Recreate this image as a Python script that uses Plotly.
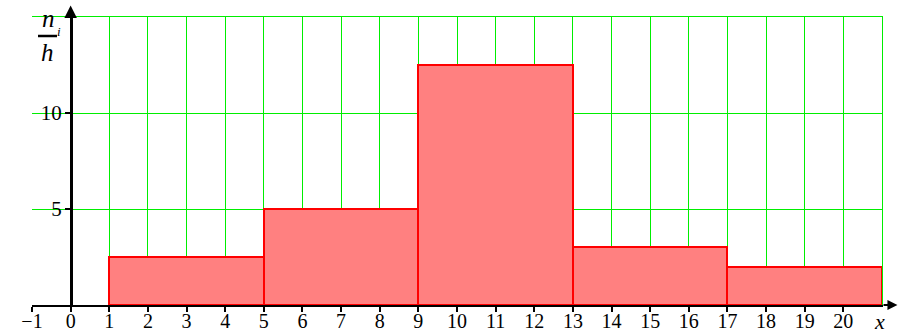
import plotly.graph_objects as go

# Data
bin_edges = [1, 5, 9, 13, 17, 21]
heights = [2.5, 5, 12.5, 3, 2]
x_ticks = list(range(-1, 21))
x_ticklabels = ["\u22121"] + [str(v) for v in range(0, 21)]
y_ticks = [5, 10]
y_ticklabels = ["5", "10"]

centers = [(a + b) / 2 for a, b in zip(bin_edges[:-1], bin_edges[1:])]
widths = [b - a for a, b in zip(bin_edges[:-1], bin_edges[1:])]

W, H = 899, 333
ml, mr, mt, mb = 32, 17, 17, 28
pw, ph = W - ml - mr, H - mt - mb

def px(xp):
    return (xp - ml) / pw

def py(yp):
    return (H - mb - yp) / ph

FONT = "Liberation Serif, Times New Roman, Times, serif"
GRID = "rgb(0,238,0)"
GW = 1.3

fig = go.Figure()
fig.add_trace(go.Bar(
    x=centers, y=heights, width=widths,
    marker=dict(color="#FF8080", line=dict(color="#FF0000", width=2)),
    hoverinfo="skip",
))
# invisible trace to activate the frame axes
fig.add_trace(go.Scatter(x=[None], y=[None], xaxis="x2", yaxis="y2", showlegend=False, hoverinfo="skip"))

fig.update_layout(
    width=W, height=H,
    margin=dict(l=ml, r=mr, t=mt, b=mb, pad=0, autoexpand=False),
    paper_bgcolor="white", plot_bgcolor="white",
    showlegend=False,
    font=dict(family=FONT, size=21, color="black"),
    bargap=0,
    xaxis=dict(
        range=[-1, 21], tickmode="array", tickvals=x_ticks, ticktext=x_ticklabels,
        showgrid=True, gridcolor=GRID, gridwidth=GW,
        zeroline=False, showline=True, linecolor="black", linewidth=2,
        ticks="outside", ticklen=5, tickwidth=2, tickcolor="black",
        tickfont=dict(family=FONT, size=20), ticklabelstandoff=-8,
        automargin=False, fixedrange=True,
    ),
    yaxis=dict(
        range=[0, 15], tickmode="array", tickvals=y_ticks, ticktext=y_ticklabels,
        showgrid=True, gridcolor=GRID, gridwidth=GW,
        zeroline=False, showline=True, linecolor="black", linewidth=2.5,
        anchor="free", position=1 / 22,
        ticks="outside", ticklen=5, tickwidth=2, tickcolor="black",
        tickfont=dict(family=FONT, size=21), ticklabelstandoff=-1,
        automargin=False, fixedrange=True,
    ),
    xaxis2=dict(
        range=[-1, 21], overlaying="x", side="top", anchor="y", showline=True,
        linecolor=GRID, linewidth=GW, showgrid=False, zeroline=False,
        showticklabels=False, ticks="", automargin=False, fixedrange=True,
    ),
    yaxis2=dict(
        range=[0, 15], overlaying="y", side="right", anchor="x", showline=True,
        linecolor=GRID, linewidth=GW, showgrid=False, zeroline=False,
        showticklabels=False, ticks="", automargin=False, fixedrange=True,
    ),
)

# axis arrows
fig.add_annotation(x=21.4, y=0, ax=21, ay=0, xref="x", yref="y", axref="x", ayref="y",
                   text="", showarrow=True, arrowhead=2, arrowsize=1, arrowwidth=2, arrowcolor="black")
fig.add_annotation(x=0, y=15.6, ax=0, ay=15, xref="x", yref="y", axref="x", ayref="y",
                   text="", showarrow=True, arrowhead=2, arrowsize=1, arrowwidth=2.5, arrowcolor="black")

# axis labels
fig.add_annotation(x=px(879), y=py(321), xref="paper", yref="paper", text="<i>x</i>",
                   showarrow=False, font=dict(family=FONT, size=22), xanchor="center", yanchor="middle")
fig.add_annotation(x=px(48), y=py(19), xref="paper", yref="paper", text="<i>n</i>",
                   showarrow=False, font=dict(family=FONT, size=25), xanchor="center", yanchor="middle")
fig.add_annotation(x=px(59), y=py(31), xref="paper", yref="paper", text="<i>i</i>",
                   showarrow=False, font=dict(family=FONT, size=13), xanchor="center", yanchor="middle")
fig.add_annotation(x=px(47), y=py(52), xref="paper", yref="paper", text="<i>h</i>",
                   showarrow=False, font=dict(family=FONT, size=25), xanchor="center", yanchor="middle")
fig.add_shape(type="line", xref="paper", yref="paper", x0=px(38), x1=px(57), y0=py(36), y1=py(36),
              line=dict(color="black", width=2.5))

fig.write_html("out.html", config={"displayModeBar": False},
               post_script="document.body.style.margin='0px';")
